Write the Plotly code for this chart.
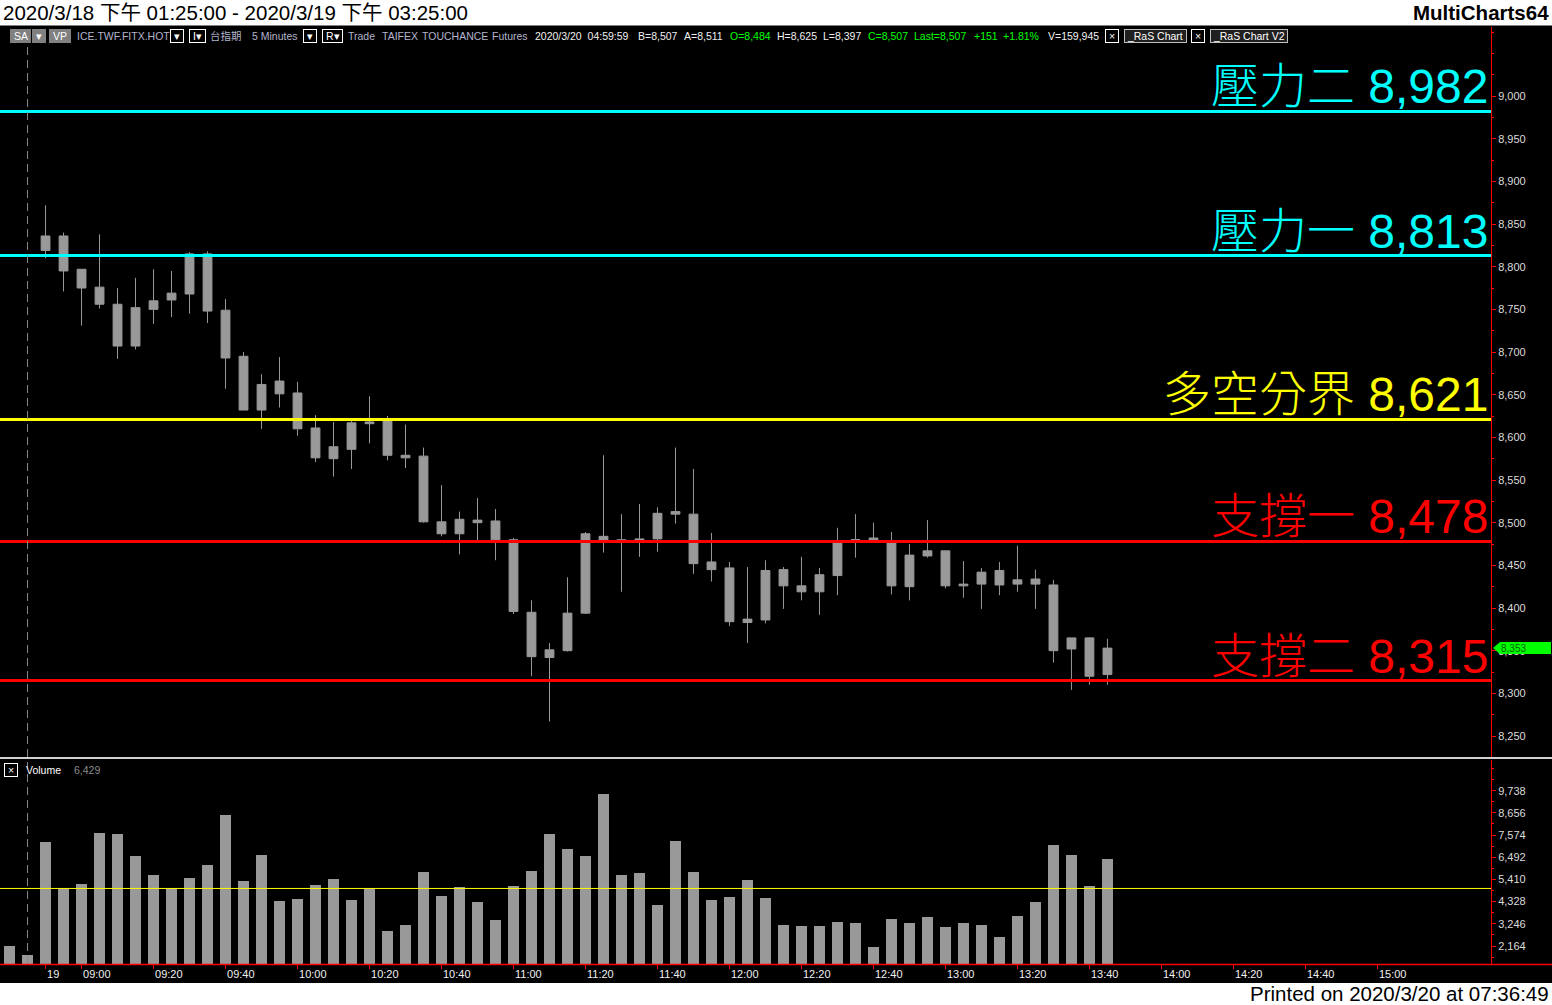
import plotly.graph_objects as go

# ---------------- data ----------------
PREV_SESSION_TIMES = ["13:40", "13:45"]      # last two bars of 2020/3/18
DAY_START, DAY_END = "08:50", "13:45"        # 5-minute bars of 2020/3/19
BAR_MINUTES = 5

OPEN = [None, None,
        8819, 8836, 8797, 8776, 8756, 8707, 8750, 8761, 8768, 8815,
        8749, 8695, 8632, 8666, 8652, 8611, 8575, 8586, 8616, 8621,
        8579, 8578, 8501, 8487, 8503, 8502, 8480, 8395, 8342, 8350,
        8394, 8484, 8480, 8479, 8481, 8510, 8510, 8454, 8447, 8383,
        8386, 8445, 8426, 8419, 8438, 8479, 8480, 8478, 8425, 8461,
        8467, 8426, 8428, 8444, 8428, 8434, 8427, 8352, 8365, 8322]
HIGH = [None, None,
        8872, 8840, 8797, 8838, 8775, 8787, 8797, 8795, 8817, 8818,
        8762, 8700, 8674, 8694, 8665, 8626, 8618, 8619, 8648, 8625,
        8615, 8588, 8544, 8513, 8529, 8516, 8482, 8409, 8359, 8436,
        8489, 8579, 8510, 8522, 8518, 8588, 8563, 8488, 8454, 8448,
        8456, 8448, 8460, 8447, 8494, 8510, 8500, 8489, 8475, 8503,
        8467, 8455, 8447, 8454, 8473, 8445, 8433, 8365, 8366, 8364]
LOW = [None, None,
       8810, 8771, 8731, 8751, 8692, 8703, 8733, 8741, 8745, 8734,
       8657, 8632, 8610, 8635, 8602, 8571, 8554, 8563, 8593, 8573,
       8564, 8500, 8484, 8463, 8479, 8456, 8393, 8320, 8267, 8349,
       8393, 8465, 8419, 8460, 8466, 8499, 8440, 8431, 8379, 8359,
       8382, 8399, 8409, 8392, 8415, 8459, 8478, 8416, 8409, 8459,
       8423, 8412, 8399, 8415, 8419, 8399, 8336, 8304, 8310, 8310]
CLOSE = [None, None,
         8836, 8795, 8775, 8756, 8707, 8752, 8760, 8769, 8815, 8748,
         8693, 8632, 8662, 8651, 8610, 8576, 8589, 8617, 8618, 8579,
         8576, 8501, 8487, 8504, 8500, 8480, 8396, 8343, 8351, 8394,
         8487, 8479, 8478, 8481, 8511, 8513, 8452, 8445, 8384, 8387,
         8444, 8426, 8419, 8439, 8478, 8480, 8482, 8426, 8462, 8467,
         8426, 8428, 8442, 8427, 8433, 8428, 8350, 8365, 8320, 8353]
VOLUME = [2169, 1728, 7227, 4974, 5187, 7668, 7620, 6550, 5623, 4980,
          5478, 6108, 8545, 5333, 6599, 4359, 4456, 5134, 5429, 4407,
          4974, 2896, 3191, 5768, 4601, 5037, 4310, 3433, 5085, 5817,
          7620, 6891, 6550, 9562, 5623, 5720, 4165, 7276, 5768, 4407,
          4553, 5381, 4504, 3191, 3143, 3143, 3336, 3288, 2120, 3481,
          3288, 3578, 3094, 3288, 3191, 2605, 3627, 4310, 7085, 6600,
          5085, 6429]
VOLUME_AVG = 4970

LEVEL_NAMES = ["壓力二", "壓力一", "多空分界", "支撐一", "支撐二"]
LEVEL_VALUES = [8982, 8813, 8621, 8478, 8315]
LEVEL_COLORS = ["#00ffff", "#00ffff", "#ffff00", "#ff0000", "#ff0000"]

X_TICK_LABELS = ["19", "09:00", "09:20", "09:40", "10:00", "10:20", "10:40",
                 "11:00", "11:20", "11:40", "12:00", "12:20", "12:40", "13:00",
                 "13:20", "13:40", "14:00", "14:20", "14:40", "15:00"]
PRICE_TICKS = list(range(8250, 9001, 50))
VOLUME_TICKS = [2164, 3246, 4328, 5410, 6492, 7574, 8656, 9738]

PRICE_RANGE = [8225.4, 9080.9]
VOLUME_RANGE = [1286, 11235]
X_RANGE = [-0.53, 82.31]

# ---------------- helpers ----------------
W, H = 1552, 1005
PLOT_RIGHT = 1491


def fx(px):
    return px / W


def fy(py):
    return 1 - py / H


def minutes(t):
    h, m = t.split(":")
    return int(h) * 60 + int(m)


FIRST_DAY_BAR = len(PREV_SESSION_TIMES)


def bar_index(t):
    return FIRST_DAY_BAR + (minutes(t) - minutes(DAY_START)) / BAR_MINUTES


n_day = int((minutes(DAY_END) - minutes(DAY_START)) / BAR_MINUTES) + 1
BAR_TIMES = PREV_SESSION_TIMES + [
    "%02d:%02d" % divmod(minutes(DAY_START) + BAR_MINUTES * k, 60) for k in range(n_day)]
idx = list(range(len(BAR_TIMES)))

tick_vals = [FIRST_DAY_BAR] + [bar_index(t) for t in X_TICK_LABELS[1:]]

c_idx = [i for i in idx if OPEN[i] is not None]

FONT = "Liberation Sans, Arial, Noto Sans CJK TC, sans-serif"
GREY = "#999999"

fig = go.Figure()
fig.add_trace(go.Candlestick(
    x=c_idx,
    open=[OPEN[i] for i in c_idx], high=[HIGH[i] for i in c_idx],
    low=[LOW[i] for i in c_idx], close=[CLOSE[i] for i in c_idx],
    increasing=dict(line=dict(color=GREY, width=1), fillcolor=GREY),
    decreasing=dict(line=dict(color=GREY, width=1), fillcolor=GREY),
    whiskerwidth=0, xaxis="x", yaxis="y", showlegend=False, hoverinfo="skip"))
fig.add_trace(go.Bar(
    x=idx, y=VOLUME, width=0.61, marker=dict(color=GREY, line=dict(width=0)),
    xaxis="x2", yaxis="y2", showlegend=False, hoverinfo="skip"))

shapes = []
annotations = []

# backgrounds
shapes.append(dict(type="rect", xref="paper", yref="paper", x0=0, x1=1, y0=fy(983), y1=fy(25.5),
                   fillcolor="#000000", line=dict(width=0), layer="below"))

# level lines and labels
for name, val, col in zip(LEVEL_NAMES, LEVEL_VALUES, LEVEL_COLORS):
    shapes.append(dict(type="line", xref="x domain", yref="y", x0=0, x1=1, y0=val, y1=val,
                       line=dict(color=col, width=3)))
    annotations.append(dict(xref="x domain", yref="y", x=1, y=val, xanchor="right", yanchor="bottom",
                            xshift=-1, yshift=-4, showarrow=False,
                            text=f"{name} {val:,}",
                            font=dict(family=FONT, size=48, color=col, weight=300)))

# volume average line
shapes.append(dict(type="line", xref="x2 domain", yref="y2", x0=0, x1=1, y0=VOLUME_AVG, y1=VOLUME_AVG,
                   line=dict(color="#ffff00", width=1)))

# session break dashed line
SESSION_BREAK = FIRST_DAY_BAR - 1
for ya, yb in [(45, 757), (762, 964)]:
    shapes.append(dict(type="line", xref="x", yref="paper", x0=SESSION_BREAK, x1=SESSION_BREAK,
                       y0=fy(yb), y1=fy(ya), line=dict(color="#8a8a8a", width=1, dash="8px,5px")))

# pane separator and base line
shapes.append(dict(type="line", xref="paper", yref="paper", x0=0, x1=1, y0=fy(758), y1=fy(758),
                   line=dict(color="#d0d0d0", width=2)))
shapes.append(dict(type="line", xref="paper", yref="paper", x0=0, x1=1, y0=fy(964.5), y1=fy(964.5),
                   line=dict(color="#ff0000", width=1.5)))

# last price tag
LAST_PRICE = CLOSE[-1]
shapes.append(dict(type="path", xref="paper", xsizemode="pixel", xanchor=fx(1493),
                   yref="y", ysizemode="pixel", yanchor=LAST_PRICE,
                   path="M0,0 L7,6 L58,6 L58,-6 L7,-6 Z", fillcolor="#00ff00", line=dict(width=0)))
annotations.append(dict(xref="paper", yref="y", x=fx(1499), y=LAST_PRICE, xanchor="left", yanchor="middle",
                        showarrow=False, text=f"{LAST_PRICE:,}",
                        font=dict(family=FONT, size=10, color="#006000")))

# top band texts
annotations.append(dict(xref="paper", yref="paper", x=fx(1), y=fy(12), xanchor="left", yanchor="middle",
                        showarrow=False, text="2020/3/18 下午 01:25:00 - 2020/3/19 下午 03:25:00",
                        font=dict(family=FONT, size=20.5, color="#000000")))
annotations.append(dict(xref="paper", yref="paper", x=fx(1551), y=fy(12), xanchor="right", yanchor="middle",
                        showarrow=False, text="<b>MultiCharts64</b>",
                        font=dict(family=FONT, size=20.5, color="#000000")))
annotations.append(dict(xref="paper", yref="paper", x=fx(1551), y=fy(993), xanchor="right", yanchor="middle",
                        showarrow=False, text="Printed on 2020/3/20 at 07:36:49",
                        font=dict(family=FONT, size=20.5, color="#000000")))

# toolbar
TB_Y = 36
LB = "#b4b4cc"
WH = "#f0f0f0"
GR = "#00ff00"
toolbar_texts = [
    (75, "ICE.TWF.FITX.HOT", LB), (208, "台指期", LB), (250, "5 Minutes", LB),
    (346, "Trade", LB), (380, "TAIFEX", LB), (420, "TOUCHANCE", LB), (490, "Futures", LB),
    (533, "2020/3/20  04:59:59", WH), (636, "B=8,507", WH), (682, "A=8,511", WH),
    (728, "O=8,484", GR), (775, "H=8,625", WH), (821, "L=8,397", WH), (866, "C=8,507", GR),
    (912, "Last=8,507", GR), (972, "+151", GR), (1001, "+1.81%", GR), (1046, "V=159,945", WH),
]
for x, t, c in toolbar_texts:
    annotations.append(dict(xref="paper", yref="paper", x=fx(x), y=fy(TB_Y), xanchor="left", yanchor="middle",
                            showarrow=False, text=t, font=dict(family=FONT, size=10.5, color=c)))
toolbar_boxes = [
    (10, " SA ", "#808080", "#808080"), (32, " ▾ ", "#808080", "#808080"), (49, " VP ", "#808080", "#808080"),
    (170, " ▾ ", "#000000", "#ffffff"), (189, " I▾ ", "#000000", "#ffffff"), (303, " ▾ ", "#000000", "#ffffff"),
    (322, " R▾ ", "#000000", "#ffffff"), (1105, " × ", "#000000", "#ffffff"),
    (1124, " _RaS Chart ", "#202020", "#c0c0c0"), (1191, " × ", "#000000", "#ffffff"),
    (1210, " _RaS Chart V2 ", "#202020", "#c0c0c0"),
]
for x, t, bg, bc in toolbar_boxes:
    annotations.append(dict(xref="paper", yref="paper", x=fx(x), y=fy(TB_Y), xanchor="left", yanchor="middle",
                            showarrow=False, text=t, bgcolor=bg, bordercolor=bc, borderwidth=1, borderpad=0,
                            font=dict(family=FONT, size=10.5, color="#ffffff")))

# volume header
annotations.append(dict(xref="paper", yref="paper", x=fx(4), y=fy(770), xanchor="left", yanchor="middle",
                        showarrow=False, text=" × ", bgcolor="#000000", bordercolor="#ffffff", borderwidth=1,
                        borderpad=0, font=dict(family=FONT, size=10.5, color="#ffffff")))
annotations.append(dict(xref="paper", yref="paper", x=fx(24), y=fy(770), xanchor="left", yanchor="middle",
                        showarrow=False, text="Volume", font=dict(family=FONT, size=10.5, color="#ffffff")))
annotations.append(dict(xref="paper", yref="paper", x=fx(72), y=fy(770), xanchor="left", yanchor="middle",
                        showarrow=False, text=f"{VOLUME[-1]:,}", font=dict(family=FONT, size=10.5, color="#8c8c8c")))

x_dom = [0, fx(PLOT_RIGHT)]
axis_common = dict(showgrid=False, zeroline=False)

fig.update_layout(
    width=W, height=H,
    margin=dict(l=0, r=0, t=0, b=0),
    paper_bgcolor="#ffffff", plot_bgcolor="#000000",
    showlegend=False, bargap=0,
    xaxis=dict(domain=x_dom, range=X_RANGE, anchor="y", showticklabels=False, ticks="",
               rangeslider=dict(visible=False), **axis_common),
    xaxis2=dict(domain=x_dom, range=X_RANGE, anchor="y2", matches="x",
                tickvals=tick_vals, ticktext=X_TICK_LABELS, ticks="outside", ticklen=4,
                tickcolor="#ff0000", ticklabelposition="outside right", ticklabelshift=1,
                tickfont=dict(family=FONT, size=11, color="#f0f0f0"), showline=False, **axis_common),
    yaxis=dict(domain=[fy(757), fy(27)], range=PRICE_RANGE, anchor="x", side="right",
               tickvals=PRICE_TICKS, tickformat=",d", ticks="outside", ticklen=4, tickcolor="#ff0000",
               showline=True, linecolor="#ff0000", linewidth=1,
               minor=dict(dtick=25, tick0=0, ticks="outside", ticklen=2, tickcolor="#ff0000"),
               tickfont=dict(family=FONT, size=11, color="#dcdcdc"), automargin=False, **axis_common),
    yaxis2=dict(domain=[fy(964), fy(760)], range=VOLUME_RANGE, anchor="x2", side="right",
                tickvals=VOLUME_TICKS, tickformat=",d", ticks="outside", ticklen=4, tickcolor="#ff0000",
                showline=True, linecolor="#ff0000", linewidth=1,
                minor=dict(dtick=541, tick0=0, ticks="outside", ticklen=2, tickcolor="#ff0000"),
                tickfont=dict(family=FONT, size=11, color="#dcdcdc"), automargin=False, **axis_common),
    shapes=shapes, annotations=annotations,
)

fig.write_html("out.html", config={"displayModeBar": False},
               post_script="document.body.style.margin='0';document.body.style.overflow='hidden';")
